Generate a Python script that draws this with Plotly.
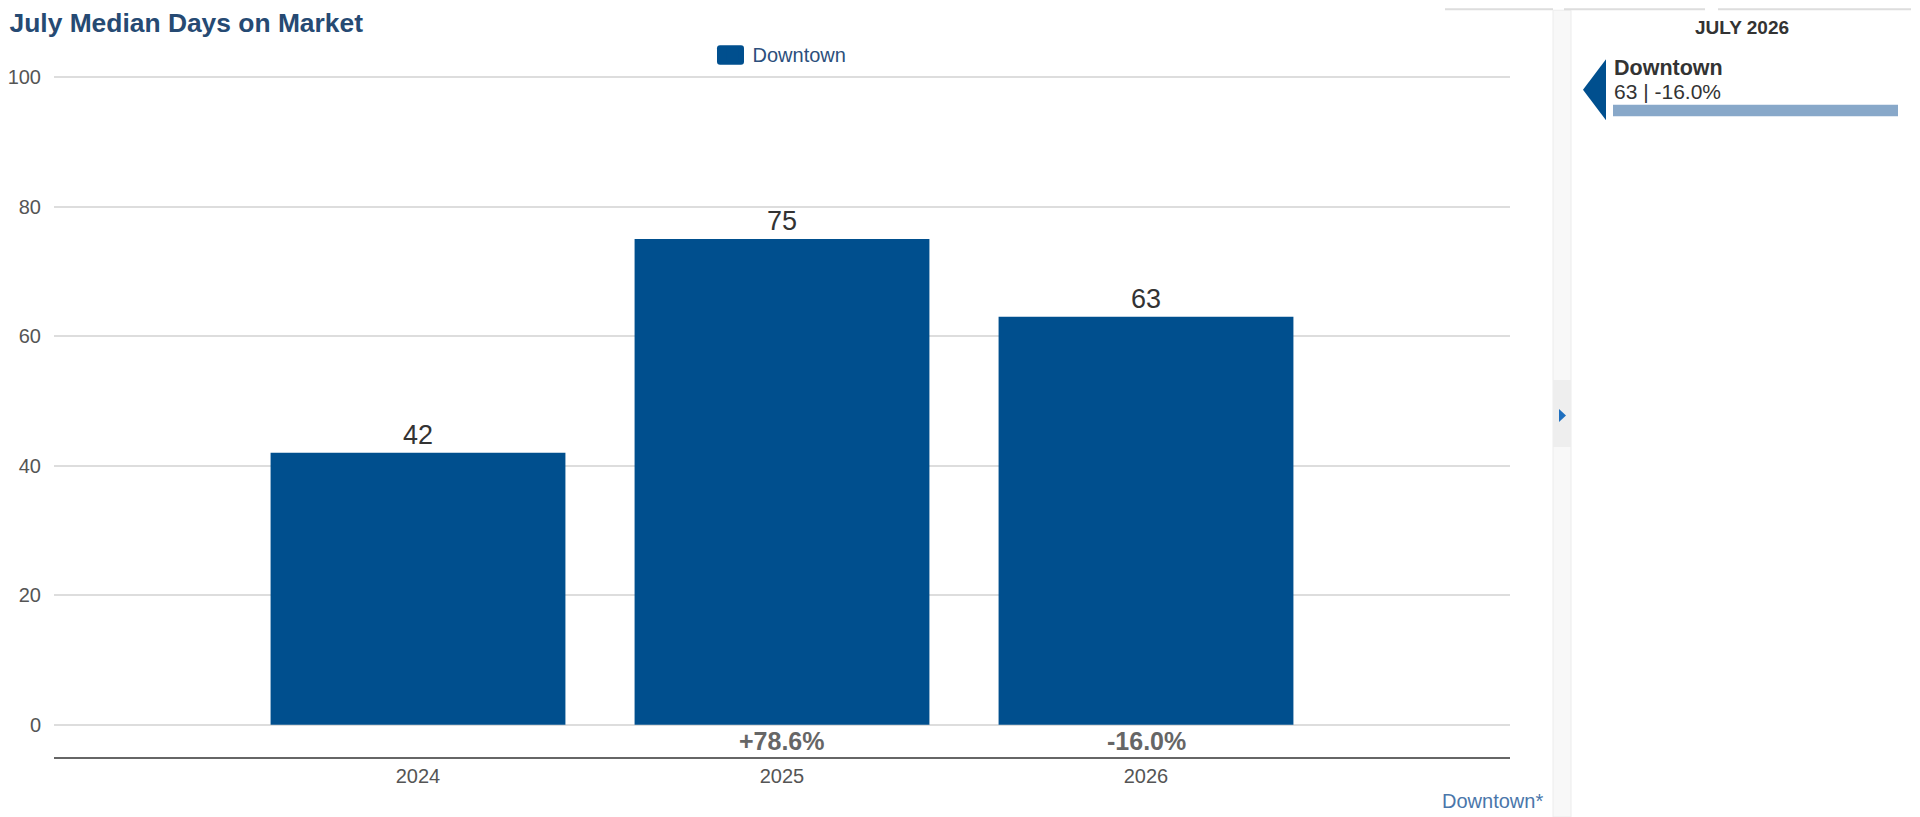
import plotly.graph_objects as go

# ---- data ----
years = ["2024", "2025", "2026"]
median_dom = [42, 75, 63]
pct_change = ["", "+78.6%", "-16.0%"]
series_name = "Downtown"
y_ticks = [0, 20, 40, 60, 80, 100]
panel_title = "JULY 2026"
panel_name = "Downtown"
panel_value = "63 | -16.0%"
footer_label = "Downtown*"

# page body has an 8px default margin: figure coordinates = screen - 8
OFF = 8
W, H = 1920 - OFF, 817 - OFF
# plot area in screen pixels
L, R, T, B = 54, 1510, 73.78, 757
FONT = "Arial, 'Liberation Sans', Helvetica, sans-serif"
BAR = "#004f8e"


def px(xs):
    return (xs - L) / (R - L)


def py(ys):
    return (B - ys) / (B - T)


def rounded_rect_path(x0, y0, x1, y1, r):
    pts = [
        ("M", x0 + r, y0), ("L", x1 - r, y0), ("Q", x1, y0, x1, y0 + r),
        ("L", x1, y1 - r), ("Q", x1, y1, x1 - r, y1), ("L", x0 + r, y1),
        ("Q", x0, y1, x0, y1 - r), ("L", x0, y0 + r), ("Q", x0, y0, x0 + r, y0),
    ]
    out = []
    for p in pts:
        cmd = p[0]
        coords = p[1:]
        s = []
        for k in range(0, len(coords), 2):
            s.append("%f,%f" % (px(coords[k]), py(coords[k + 1])))
        out.append(cmd + " " + " ".join(s))
    return " ".join(out) + " Z"


fig = go.Figure()
fig.add_trace(go.Bar(
    x=years, y=median_dom, name=series_name,
    marker=dict(color=BAR, line=dict(width=0)),
    width=0.81,
    text=[str(v) for v in median_dom], textposition="outside",
    textfont=dict(size=27, color="#333333", family=FONT),
    cliponaxis=False, hoverinfo="x+y",
))

annotations = []
for i, p in enumerate(pct_change):
    if p:
        annotations.append(dict(x=i, y=-2.6, xref="x", yref="y", text="<b>%s</b>" % p,
                                showarrow=False, yanchor="middle", xanchor="center",
                                font=dict(size=25, color="#666666", family=FONT)))

# footer label
annotations.append(dict(x=px(1545), y=py(801), xref="paper", yref="paper", text=footer_label,
                        showarrow=False, xanchor="right", yanchor="middle",
                        font=dict(size=20, color="#4a76aa", family=FONT)))
# side panel texts
annotations.append(dict(x=px(1742), y=py(27), xref="paper", yref="paper", text="<b>%s</b>" % panel_title,
                        showarrow=False, xanchor="center", yanchor="middle",
                        font=dict(size=19, color="#333333", family=FONT)))
annotations.append(dict(x=px(1612), y=py(68), xref="paper", yref="paper", text="<b>%s</b>" % panel_name,
                        showarrow=False, xanchor="left", yanchor="middle",
                        font=dict(size=21.5, color="#333333", family=FONT)))
annotations.append(dict(x=px(1612), y=py(91), xref="paper", yref="paper", text=panel_value,
                        showarrow=False, xanchor="left", yanchor="middle",
                        font=dict(size=21, color="#333333", family=FONT)))

shapes = []
# legend swatch (enlarged, sits behind plotly's own legend symbol)
shapes.append(dict(type="path", xref="paper", yref="paper",
                   path=rounded_rect_path(717, 45, 744, 64.5, 3),
                   fillcolor=BAR, line=dict(width=0)))
# top thin lines
for x0, x1 in [(1445, 1553), (1564, 1705), (1718, 1911)]:
    shapes.append(dict(type="line", xref="paper", yref="paper", x0=px(x0), x1=px(x1),
                       y0=py(OFF + 1), y1=py(OFF + 1), line=dict(color="#dddddd", width=2)))
# scroll strip
shapes.append(dict(type="rect", xref="paper", yref="paper", x0=px(1553), x1=px(1571),
                   y0=py(817), y1=py(10), fillcolor="#f8f8f8", line=dict(color="#ececec", width=1),
                   layer="below"))
shapes.append(dict(type="rect", xref="paper", yref="paper", x0=px(1553), x1=px(1571),
                   y0=py(447), y1=py(380), fillcolor="#eeeeee", line=dict(width=0)))
# small arrow in strip
shapes.append(dict(type="path", xref="paper", yref="paper",
                   path="M %f %f L %f %f L %f %f Z" % (px(1559), py(409), px(1566), py(415.5), px(1559), py(422)),
                   fillcolor="#1f6fbf", line=dict(width=0)))
# big left-pointing triangle
shapes.append(dict(type="path", xref="paper", yref="paper",
                   path="M %f %f L %f %f L %f %f Z" % (px(1606), py(59), px(1583), py(89.5), px(1606), py(120)),
                   fillcolor=BAR, line=dict(width=0)))
# light blue bar in panel
shapes.append(dict(type="rect", xref="paper", yref="paper", x0=px(1613), x1=px(1898),
                   y0=py(116), y1=py(104.5), fillcolor="#88a8c9", line=dict(width=0)))

fig.update_layout(
    width=W, height=H,
    margin=dict(l=L - OFF, r=W - (R - OFF), t=T - OFF, b=H - (B - OFF), autoexpand=False),
    paper_bgcolor="white", plot_bgcolor="white",
    font=dict(family=FONT, color="#555555"),
    title=dict(text="<b>July Median Days on Market</b>", xref="container", yref="container",
               x=1.5 / W, y=1 - 15 / H, xanchor="left", yanchor="middle",
               font=dict(size=26.4, color="#264a73", family=FONT)),
    showlegend=True,
    legend=dict(orientation="h", x=0.5, xanchor="center", y=py(54), yanchor="middle",
                font=dict(size=20, color="#2c4f7c", family=FONT), bgcolor="rgba(0,0,0,0)"),
    xaxis=dict(type="category", range=[-1, 3], showgrid=False, zeroline=False,
               showline=True, linecolor="#666666", linewidth=2, ticks="",
               tickfont=dict(size=20, color="#555555", family=FONT), ticklabelstandoff=0,
               fixedrange=True),
    yaxis=dict(range=[-5, 100.5], tickvals=y_ticks, showgrid=True, gridcolor="#dddddd", gridwidth=2,
               zeroline=False, showline=False, ticks="",
               tickfont=dict(size=20, color="#555555", family=FONT), ticklabelstandoff=12,
               fixedrange=True),
    bargap=0.19,
    annotations=annotations, shapes=shapes,
)

fig.write_html("out.html")
